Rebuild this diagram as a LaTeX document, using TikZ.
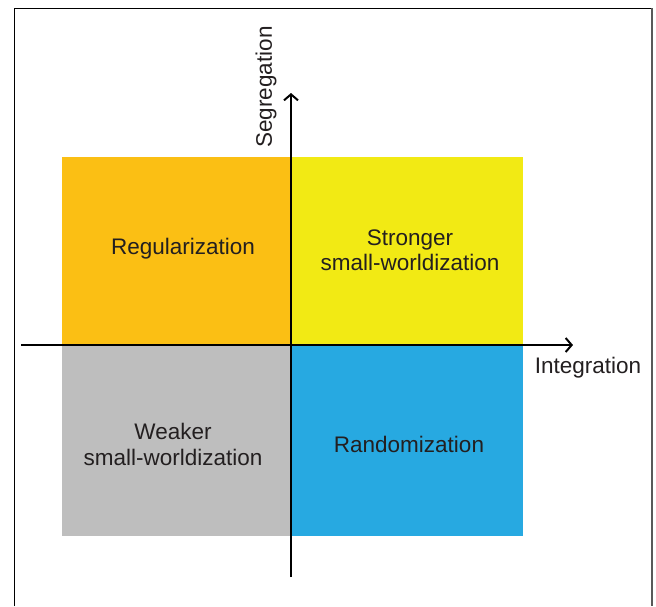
\documentclass[tikz,border=0pt]{standalone}
\usepackage{fontspec}
\setmainfont{Liberation Sans}
\usetikzlibrary{arrows.meta}
\definecolor{qorange}{HTML}{FBBF14}
\definecolor{qyellow}{HTML}{F2EA14}
\definecolor{qgray}{HTML}{BEBEBE}
\definecolor{qblue}{HTML}{27A9E1}
\definecolor{ink}{HTML}{231F20}
\begin{document}
\begin{tikzpicture}[x=1pt,y=-1pt,
  lbl/.style={text=ink,font=\fontsize{22.5}{25.5}\selectfont,align=center,inner sep=0pt},
  axis/.style={line width=2pt,draw=black,-{Straight Barb[length=6pt,width=14pt]}}]
\useasboundingbox (0,0) rectangle (656,606);
\fill[white] (0,0) rectangle (656,606);
% outer frame
\draw[line width=1pt,black] (14,606) -- (14,8) -- (652,8);
\draw[line width=2.5pt,black!65] (652,8) -- (652,606);
% quadrants
\fill[qorange] (62,157) rectangle (291,345);
\fill[qyellow] (291,157) rectangle (523,345);
\fill[qgray] (62,345) rectangle (291,536);
\fill[qblue] (291,345) rectangle (523,536);
% quadrant labels
\node[lbl] (reg) at (183,249) {Regularization};
\node[lbl] (str) at (410,250) {Stronger\\small-worldization};
\node[lbl] (wea) at (173,444.5) {Weaker\\small-worldization};
\node[lbl] (ran) at (409,444) {Randomization};
% axes
\coordinate (ybot) at (291,577);
\coordinate (ytop) at (291,93);
\coordinate (xleft) at (21,345);
\coordinate (xright) at (573,345);
\draw[axis] (xleft) -- (xright);
\draw[axis] (ybot) -- (ytop);
\node[lbl,rotate=90] (seg) at (266,87) {Segregation};
\node[lbl] (int) at (588,368) {Integration};
\end{tikzpicture}
\end{document}
